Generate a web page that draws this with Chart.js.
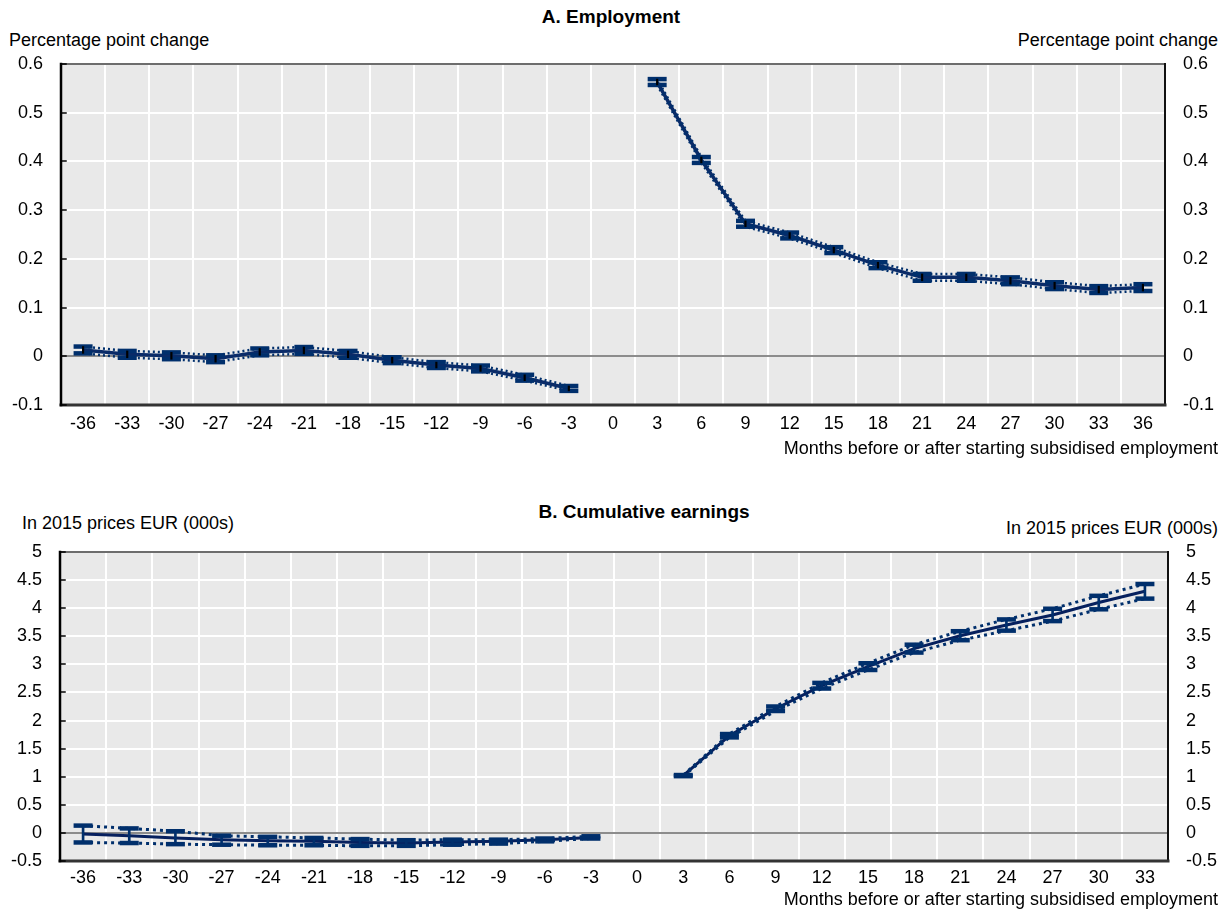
<!DOCTYPE html>
<html>
<head>
<meta charset="utf-8">
<script src="https://cdn.jsdelivr.net/npm/chart.js@4.4.1/dist/chart.umd.min.js"></script>
<style>
  body { margin: 0; background: #fff; }
  #page { position: relative; width: 1231px; height: 912px; font-family: 'Liberation Sans', Arial, sans-serif; color: #000; }
  .lbl { position: absolute; white-space: nowrap; font-size: 18px; line-height: 20px; }
  .ttl { position: absolute; white-space: nowrap; font-size: 19px; font-weight: bold; line-height: 22px; transform: translateX(-50%); }
  canvas { position: absolute; left: 0; }
</style>
</head>
<body>
<div id="page">
  <div class="ttl" style="left:611px; top:6px">A. Employment</div>
  <div class="lbl" style="left:9px; top:30px">Percentage point change</div>
  <div class="lbl" style="right:13px; top:30px">Percentage point change</div>
  <canvas id="chartA" width="1231" height="440" style="top:0"></canvas>
  <div class="lbl" style="right:13px; top:438px">Months before or after starting subsidised employment</div>

  <div class="ttl" style="left:644px; top:501px">B. Cumulative earnings</div>
  <div class="lbl" style="left:22px; top:513px">In 2015 prices EUR (000s)</div>
  <div class="lbl" style="right:13px; top:518px">In 2015 prices EUR (000s)</div>
  <canvas id="chartB" width="1231" height="442" style="top:470px"></canvas>
  <div class="lbl" style="right:13px; top:889px">Months before or after starting subsidised employment</div>
</div>

<script>
// Months relative to the start of subsidised employment
const monthsA = [-36, -33, -30, -27, -24, -21, -18, -15, -12, -9, -6, -3, 0, 3, 6, 9, 12, 15, 18, 21, 24, 27, 30, 33, 36];
const monthsB = [-36, -33, -30, -27, -24, -21, -18, -15, -12, -9, -6, -3, 0, 3, 6, 9, 12, 15, 18, 21, 24, 27, 30, 33];

// Panel A: employment effect (percentage points) with confidence bounds
const employmentEstimate = [0.013, 0.004, 0.001, -0.005, 0.009, 0.012, 0.004, -0.008, -0.018, -0.025, -0.044, -0.066, null,
                            0.563, 0.403, 0.272, 0.248, 0.218, 0.187, 0.162, 0.162, 0.155, 0.145, 0.137, 0.141];
const employmentUpper    = [0.020, 0.011, 0.008, 0.002, 0.016, 0.019, 0.011, -0.002, -0.012, -0.019, -0.038, -0.061, null,
                            0.569, 0.409, 0.278, 0.254, 0.224, 0.193, 0.169, 0.169, 0.162, 0.152, 0.144, 0.148];
const employmentLower    = [0.006, -0.003, -0.006, -0.012, 0.002, 0.005, -0.003, -0.014, -0.024, -0.031, -0.050, -0.071, null,
                            0.557, 0.397, 0.266, 0.242, 0.212, 0.181, 0.155, 0.155, 0.148, 0.138, 0.130, 0.134];

// Panel B: cumulative earnings effect (EUR 000s, 2015 prices) with confidence bounds
const earningsEstimate = [-0.02, -0.05, -0.09, -0.12, -0.14, -0.15, -0.17, -0.18, -0.16, -0.15, -0.12, -0.08, null,
                          1.02, 1.73, 2.21, 2.62, 2.96, 3.28, 3.51, 3.70, 3.88, 4.10, 4.30];
const earningsUpper    = [0.13, 0.08, 0.03, -0.05, -0.07, -0.09, -0.11, -0.13, -0.12, -0.12, -0.10, -0.06, null,
                          1.03, 1.76, 2.25, 2.67, 3.02, 3.35, 3.59, 3.80, 3.99, 4.22, 4.43];
const earningsLower    = [-0.17, -0.18, -0.20, -0.21, -0.22, -0.22, -0.23, -0.23, -0.21, -0.19, -0.15, -0.10, null,
                          1.01, 1.70, 2.17, 2.57, 2.90, 3.21, 3.43, 3.60, 3.77, 3.98, 4.17];

// Value axes
const axisA = { min: -0.1, max: 0.6, step: 0.1 };
const axisB = { min: -0.5, max: 5, step: 0.5 };

const NAVY = '#002F6C';
const FONT = "'Liberation Sans', Arial, sans-serif";

// Tick text: trim floating-point noise, plain "0" at zero
function tickText(v) {
  const r = Math.round(v * 100) / 100;
  return r === 0 ? '0' : String(r);
}

// Plot background, zero line and frame around the plotting area
const framePlugin = {
  id: 'frame',
  beforeDraw(chart) {
    const a = chart.chartArea, ctx = chart.ctx;
    ctx.save();
    ctx.fillStyle = '#E9E9E9';
    ctx.fillRect(a.left, a.top, a.width, a.height);
    ctx.restore();
  },
  beforeDatasetsDraw(chart) {
    const a = chart.chartArea, ctx = chart.ctx;
    const y0 = Math.round(chart.scales.y.getPixelForValue(0));
    ctx.save();
    ctx.strokeStyle = '#8C8C8C';
    ctx.lineWidth = 2;
    ctx.beginPath();
    ctx.moveTo(a.left, y0);
    ctx.lineTo(a.right, y0);
    ctx.stroke();
    ctx.restore();
  },
  afterDatasetsDraw(chart) {
    const a = chart.chartArea, ctx = chart.ctx;
    ctx.save();
    ctx.lineCap = 'square';
    // top
    ctx.strokeStyle = '#3C3C3C'; ctx.lineWidth = 1.5;
    ctx.beginPath(); ctx.moveTo(a.left, a.top); ctx.lineTo(a.right, a.top); ctx.stroke();
    // right
    ctx.strokeStyle = '#111'; ctx.lineWidth = 2;
    ctx.beginPath(); ctx.moveTo(a.right, a.top); ctx.lineTo(a.right, a.bottom); ctx.stroke();
    // bottom
    ctx.strokeStyle = '#333'; ctx.lineWidth = 3;
    ctx.beginPath(); ctx.moveTo(a.left, a.bottom); ctx.lineTo(a.right, a.bottom); ctx.stroke();
    // left with inward tick marks
    ctx.strokeStyle = '#000'; ctx.lineWidth = 2.5;
    ctx.beginPath(); ctx.moveTo(a.left, a.top); ctx.lineTo(a.left, a.bottom); ctx.stroke();
    ctx.lineWidth = 1.5;
    chart.scales.y.ticks.forEach(t => {
      const py = Math.round(chart.scales.y.getPixelForValue(t.value));
      ctx.beginPath(); ctx.moveTo(a.left, py); ctx.lineTo(a.left + 5, py); ctx.stroke();
    });
    ctx.restore();
  }
};

function buildChart(id, months, est, upper, lower, axis, o) {
  const whiskers = months.map((m, i) => (upper[i] == null ? null : [lower[i], upper[i]]));
  const bound = data => ({
    type: 'line',
    data,
    borderColor: NAVY,
    borderWidth: o.dotWidth,
    borderDash: o.dash,
    pointStyle: 'line',
    pointRadius: 9.5,
    pointHoverRadius: 9.5,
    pointBorderWidth: 4.5,
    pointBorderColor: NAVY,
    pointBackgroundColor: NAVY,
    fill: false,
    spanGaps: false,
    tension: 0,
    order: 1
  });
  const tickFont = { family: FONT, size: 18 };
  return new Chart(document.getElementById(id), {
    data: {
      labels: months.map(String),
      datasets: [
        {
          type: 'bar',
          data: whiskers,
          backgroundColor: o.whiskerColor,
          borderWidth: 0,
          barThickness: o.whiskerWidth,
          order: 0
        },
        bound(upper),
        bound(lower),
        {
          type: 'line',
          data: est,
          borderColor: o.lineColor,
          borderWidth: o.lineWidth,
          pointRadius: 0,
          pointHoverRadius: 0,
          fill: false,
          spanGaps: false,
          tension: 0,
          order: 2
        }
      ]
    },
    options: {
      responsive: false,
      animation: false,
      events: [],
      layout: { padding: { top: o.padTop, left: 0, right: 0, bottom: 0 } },
      plugins: { legend: { display: false }, tooltip: { enabled: false }, title: { display: false } },
      scales: {
        x: {
          type: 'category',
          offset: true,
          grid: { offset: true, color: '#FFFFFF', lineWidth: 2, drawTicks: false },
          border: { display: false },
          ticks: { color: '#000', font: tickFont, padding: o.xPad, maxRotation: 0, autoSkip: false },
          afterFit(s) { s.height = o.xHeight; }
        },
        y: {
          position: 'left',
          min: axis.min, max: axis.max,
          ticks: { stepSize: axis.step, color: '#000', font: tickFont, padding: 18, callback: tickText },
          grid: { color: '#FFFFFF', lineWidth: 2, drawTicks: false },
          border: { display: false },
          afterFit(s) { s.width = o.leftW; }
        },
        y2: {
          position: 'right',
          min: axis.min, max: axis.max,
          ticks: { stepSize: axis.step, color: '#000', font: tickFont, padding: 18, callback: tickText },
          grid: { display: false, drawTicks: false },
          border: { display: false },
          afterFit(s) { s.width = o.rightW; }
        }
      }
    },
    plugins: [framePlugin]
  });
}

buildChart('chartA', monthsA, employmentEstimate, employmentUpper, employmentLower, axisA, {
  padTop: 64, xHeight: 35, xPad: 8, leftW: 61, rightW: 66,
  lineColor: '#0A2B68', lineWidth: 3.5, dotWidth: 2.5, dash: [2, 3],
  whiskerColor: '#000', whiskerWidth: 1.5
});

buildChart('chartB', monthsB, earningsEstimate, earningsUpper, earningsLower, axisB, {
  padTop: 82, xHeight: 51, xPad: 6, leftW: 60, rightW: 63,
  lineColor: '#06205E', lineWidth: 3, dotWidth: 3, dash: [3, 4],
  whiskerColor: NAVY, whiskerWidth: 2
});
</script>
</body>
</html>
